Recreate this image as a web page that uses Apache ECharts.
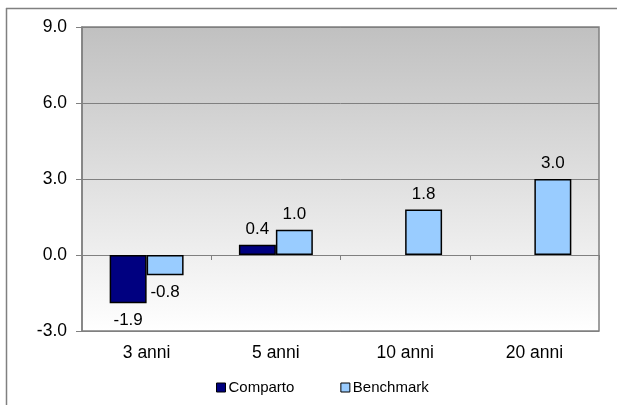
<!DOCTYPE html>
<html><head><meta charset="utf-8">
<script src="https://cdn.jsdelivr.net/npm/echarts@6/dist/echarts.min.js"></script>
<style>html,body{margin:0;padding:0;background:#fff}#c{width:617px;height:405px}</style>
</head><body><div id="c"></div>
<script>
const categories = ['3 anni', '5 anni', '10 anni', '20 anni'];
const comparto = [-1.9, 0.4, null, null];
const benchmark = [-0.8, 1.0, 1.8, 3.0];
const yTicks = { min: -3, max: 9, interval: 3 };

const chart = echarts.init(document.getElementById('c'));
const font = 'Arial, "Liberation Sans", sans-serif';
const lbl = {
  show: true, color: '#000', fontFamily: font, fontSize: 17, distance: 7,
  formatter: p => p.value == null ? '' : p.value.toFixed(1)
};
function labelFor(arr) {
  return arr.map(v => v == null ? null : { value: v, label: Object.assign({}, lbl, { position: v < 0 ? 'bottom' : 'top', distance: v < 0 ? 9 : 7 }) });
}
chart.setOption({
  animation: false,
  graphic: [
    { type: 'line', shape: { x1: 6, y1: 8.5, x2: 617, y2: 8.5 }, style: { stroke: '#808080', lineWidth: 1.5 } },
    { type: 'line', shape: { x1: 6.5, y1: 8, x2: 6.5, y2: 405 }, style: { stroke: '#808080', lineWidth: 1.5 } }
  ],
  grid: {
    left: 82, top: 27, width: 517, height: 304, show: true,
    borderColor: '#808080', borderWidth: 1.5,
    backgroundColor: new echarts.graphic.LinearGradient(0, 0, 0, 1, [
      { offset: 0, color: '#c0c0c0' }, { offset: 1, color: '#ffffff' }
    ])
  },
  legend: {
    bottom: 5, left: 211, itemGap: 46, itemWidth: 9, itemHeight: 9,
    icon: 'rect',
    textStyle: { fontFamily: font, fontSize: 15, color: '#000', padding: [0, 0, 0, -2] },
    data: [
      { name: 'Comparto', itemStyle: { borderColor: '#000', borderWidth: 1 } },
      { name: 'Benchmark', itemStyle: { borderColor: '#000', borderWidth: 1 } }
    ]
  },
  xAxis: [
    {
      type: 'category', data: categories, position: 'bottom',
      axisLine: { show: false, onZero: false }, axisTick: { show: false },
      axisLabel: { color: '#000', fontFamily: font, fontSize: 17.5, margin: 13 }
    },
    {
      type: 'category', data: categories, position: 'bottom',
      axisLine: { show: true, onZero: true, lineStyle: { color: '#808080', width: 1 } },
      axisTick: { show: true, length: 5, lineStyle: { color: '#808080' } },
      axisLabel: { show: false }
    }
  ],
  yAxis: {
    type: 'value', min: yTicks.min, max: yTicks.max, interval: yTicks.interval,
    axisLine: { show: true, lineStyle: { color: '#808080', width: 1.5 } },
    axisTick: { show: true, length: 6, lineStyle: { color: '#808080' } },
    splitLine: { show: true, lineStyle: { color: '#808080', width: 1 } },
    axisLabel: { color: '#000', fontFamily: font, fontSize: 17.5, margin: 15, formatter: v => v.toFixed(1) }
  },
  series: [
    {
      name: 'Comparto', type: 'bar', data: labelFor(comparto), xAxisIndex: 0,
      barWidth: '28.6%', barGap: '0%',
      itemStyle: { color: '#000080', borderColor: '#000', borderWidth: 1.5 },
      label: lbl
    },
    {
      name: 'Benchmark', type: 'bar', data: labelFor(benchmark), xAxisIndex: 0,
      barWidth: '28.6%', barGap: '0%',
      itemStyle: { color: '#99ccff', borderColor: '#000', borderWidth: 1.5 },
      label: lbl
    }
  ]
});
</script></body></html>
